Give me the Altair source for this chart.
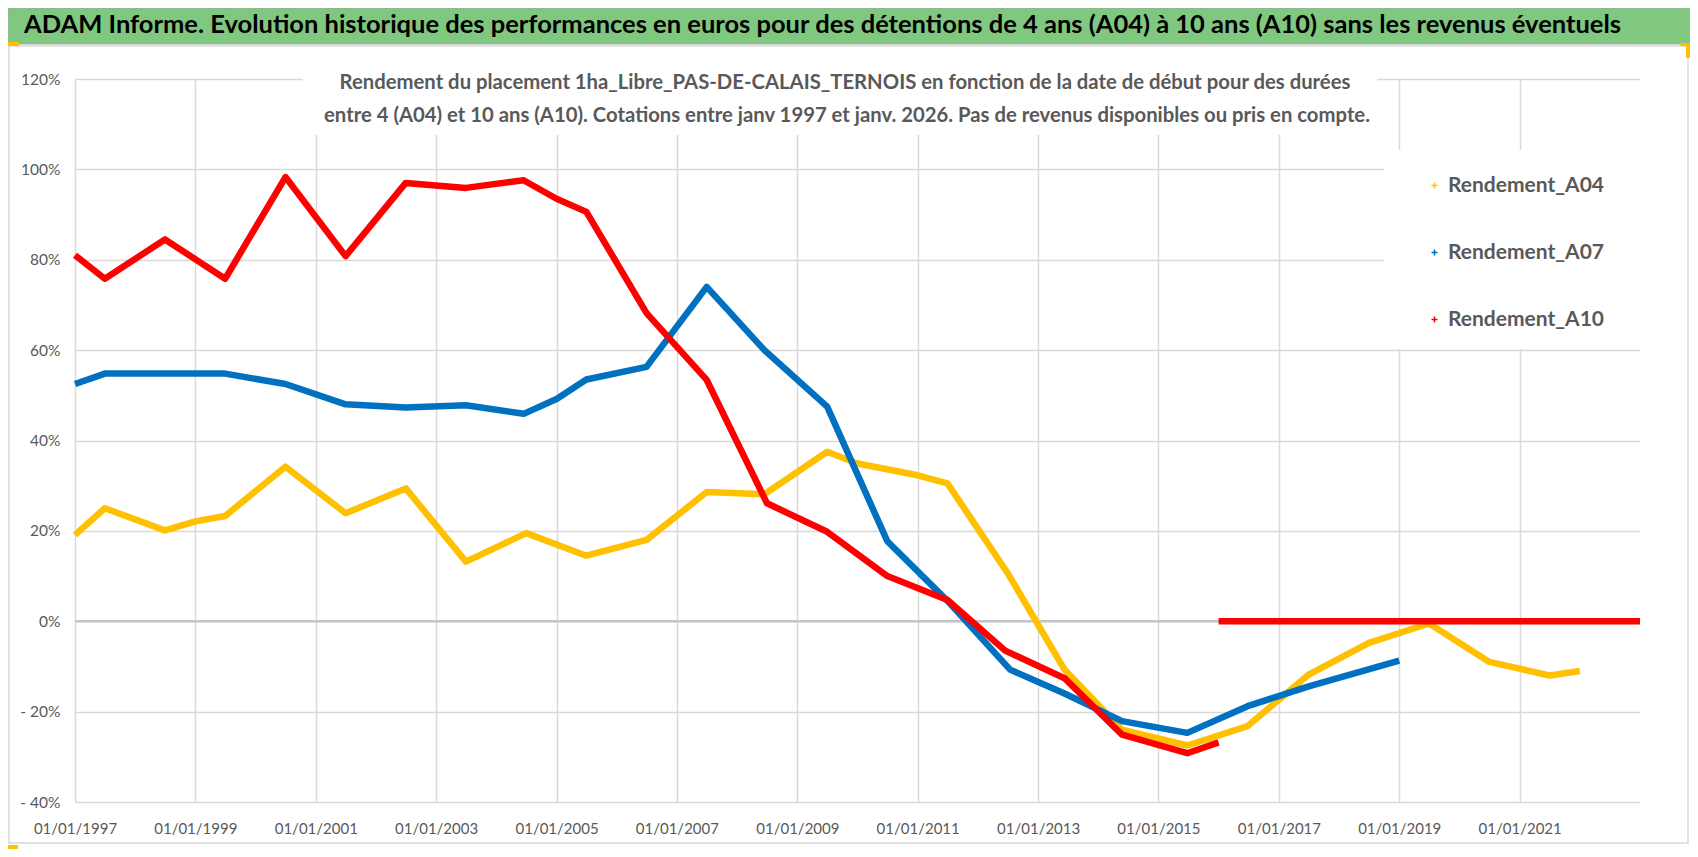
import altair as alt
import pandas as pd

# ---------------- data ----------------
series_names = ["Rendement_A04", "Rendement_A07", "Rendement_A10"]
series_colors = ["#FFC000", "#0070C0", "#FF0000"]

dates_a04 = ["1997-01-01", "1997-07-01", "1998-07-01", "1999-01-01", "1999-07-01",
             "2000-07-01", "2001-07-01", "2002-07-01", "2003-07-01", "2004-07-01",
             "2005-07-01", "2006-07-01", "2007-07-01", "2008-06-15", "2009-07-01",
             "2010-01-01", "2011-01-01", "2011-07-01", "2012-07-01", "2013-06-10",
             "2014-05-25", "2015-06-25", "2016-06-25", "2017-07-01", "2018-07-01",
             "2019-07-01", "2020-07-01", "2021-07-01", "2022-01-01"]
vals_a04 = [19.1, 25.0, 20.1, 22.1, 23.3, 34.2, 23.9, 29.4, 13.2, 19.5,
            14.5, 18.0, 28.6, 28.1, 37.5, 34.9, 32.3, 30.5, 10.6, -10.7,
            -24.0, -27.5, -23.2, -11.8, -4.8, -0.5, -9.0, -12.0, -11.0]

dates_a07 = ["1997-01-01", "1997-07-01", "1998-07-01", "1999-07-01", "2000-07-01",
             "2001-07-01", "2002-07-01", "2003-07-01", "2004-06-15", "2005-01-01",
             "2005-07-01", "2006-07-01", "2007-07-01", "2008-06-15", "2009-07-01",
             "2010-07-01", "2011-07-01", "2012-07-15", "2013-06-10", "2014-05-25",
             "2015-06-25", "2016-06-25", "2017-07-01", "2019-01-01"]
vals_a07 = [52.5, 54.8, 54.8, 54.8, 52.5, 48.0, 47.3, 47.8, 45.9, 49.2,
            53.5, 56.3, 74.0, 60.0, 47.5, 17.7, 4.5, -10.7, -16.0, -22.1,
            -24.7, -18.8, -14.4, -8.7]

dates_a10 = ["1997-01-01", "1997-07-01", "1998-07-01", "1999-07-01", "2000-07-01",
             "2001-07-01", "2002-07-01", "2003-07-01", "2004-06-15", "2005-01-01",
             "2005-07-01", "2006-07-01", "2007-07-01", "2008-07-01", "2009-07-01",
             "2010-07-01", "2011-07-01", "2012-06-15", "2013-06-10", "2014-05-25",
             "2015-06-25", "2016-01-01"]
vals_a10 = [81.0, 75.8, 84.5, 75.8, 98.3, 80.8, 97.0, 95.9, 97.6, 93.5,
            90.6, 68.2, 53.4, 26.1, 19.8, 10.0, 4.7, -6.5, -12.6, -25.1,
            -29.2, -26.8]

# A10 values after 2016 are shown as a flat 0 line
dates_a10_zero = ["2016-01-01", "2023-01-01"]
vals_a10_zero = [0.0, 0.0]

tick_years = list(range(1997, 2022, 2))

title_text = ("ADAM Informe. Evolution historique des performances en euros pour des "
              "détentions de 4 ans (A04) à 10 ans (A10) sans les revenus éventuels")
subtitle_lines = [
    "Rendement du placement 1ha_Libre_PAS-DE-CALAIS_TERNOIS en fonction de la date de début pour des durées",
    "entre 4 (A04) et 10 ans (A10).  Cotations entre janv 1997 et janv. 2026. Pas de revenus disponibles ou pris en compte.",
]

# ---------------- build table ----------------
rows = []
for d, v in zip(dates_a04, vals_a04):
    rows.append({"date": d, "val": v, "serie": series_names[0], "seg": "a04"})
for d, v in zip(dates_a07, vals_a07):
    rows.append({"date": d, "val": v, "serie": series_names[1], "seg": "a07"})
for d, v in zip(dates_a10, vals_a10):
    rows.append({"date": d, "val": v, "serie": series_names[2], "seg": "a10"})
for d, v in zip(dates_a10_zero, vals_a10_zero):
    rows.append({"date": d, "val": v, "serie": series_names[2], "seg": "a10z"})
df = pd.DataFrame(rows)

FONT = "Lato"
GRAY = "#595959"
W, H = 1565, 723

one = pd.DataFrame({"k": [0]})

x_scale = alt.Scale(type="utc",
                    domain=[alt.DateTime(year=1997, month=1, date=1, utc=True),
                            alt.DateTime(year=2023, month=1, date=1, utc=True)])
y_scale = alt.Scale(domain=[-40, 120], nice=False, zero=False)


def box(x1, x2, y1, y2, **kw):
    return alt.Chart(one).mark_rect(**kw).encode(
        x=alt.value(x1), x2=alt.value(x2), y=alt.value(y1), y2=alt.value(y2))


frame = box(-66, 1613, -33, 764, fill=None, stroke="#D9D9D9", strokeWidth=1.5)
green = box(-67, 1615, -71, -35, fill="#80C77F", stroke="#A6A6A6", strokeWidth=1)
gold1 = box(-67, -56, -37, -33, fill="#FFC000")
gold2 = box(-67, -57, 766, 771, fill="#FFC000")
gold3 = box(1605, 1615, -36, -33, fill="#FFC000")
gold4 = box(1611, 1615, -36, -21, fill="#FFC000")
sub_box = box(228, 1302, -2, 56, fill="white")
leg_box = box(1309, 1568, 71, 270, fill="white")

zero_rule = alt.Chart(pd.DataFrame({"v": [0]})).mark_rule(
    color="#C4C4C4", strokeWidth=2.5).encode(y=alt.Y("v:Q", scale=y_scale))

lines = alt.Chart(df).mark_line(strokeWidth=6.5, strokeJoin="round").encode(
    x=alt.X("date:T", scale=x_scale, title=None,
            axis=alt.Axis(values=[alt.DateTime(year=y, month=1, date=1, utc=True) for y in tick_years],
                          labelExpr="utcFormat(datum.value, '%d/%m/%Y')",
                          grid=True, ticks=False, domain=False,
                          labelPadding=19, labelFontSize=15, labelFont=FONT,
                          labelColor=GRAY, labelFlush=False, labelOverlap=False)),
    y=alt.Y("val:Q", scale=y_scale, title=None,
            axis=alt.Axis(values=[-40, -20, 0, 20, 40, 60, 80, 100, 120],
                          labelExpr="datum.value < 0 ? '- ' + (-datum.value) + '%' : datum.value + '%'",
                          grid=True, ticks=False, domain=False,
                          labelPadding=15, labelFontSize=15.5, labelFont=FONT,
                          labelColor=GRAY)),
    color=alt.Color("serie:N",
                    scale=alt.Scale(domain=series_names, range=series_colors),
                    legend=alt.Legend(orient="none", legendX=1349, legendY=96,
                                      title=None, padding=0,
                                      symbolType="M-1,0H1M0,-1V1",
                                      symbolSize=36, symbolStrokeWidth=1.5,
                                      labelFont=FONT, labelFontSize=21,
                                      labelFontWeight="bold", labelColor=GRAY,
                                      labelOffset=3, rowPadding=45)),
    detail="seg:N",
    order=alt.Order("date:T"),
)

title_mark = alt.Chart(pd.DataFrame({"t": [title_text]})).mark_text(
    align="left", baseline="middle", font=FONT, fontSize=25.5, fontWeight="bold",
    color="#000000").encode(text="t:N", x=alt.value(-51), y=alt.value(-54))

sub1 = alt.Chart(pd.DataFrame({"t": [subtitle_lines[0]]})).mark_text(
    align="center", baseline="middle", font=FONT, fontSize=20.3, fontWeight="bold",
    color=GRAY).encode(text="t:N", x=alt.value(770), y=alt.value(4))
sub2 = alt.Chart(pd.DataFrame({"t": [subtitle_lines[1]]})).mark_text(
    align="center", baseline="middle", font=FONT, fontSize=20.3, fontWeight="bold",
    color=GRAY).encode(text="t:N", x=alt.value(772), y=alt.value(37))

chart = alt.layer(
    frame, green, gold1, gold2, gold3, gold4, sub_box, leg_box,
    zero_rule, lines, title_mark, sub1, sub2
).properties(
    width=W, height=H,
    autosize=alt.AutoSizeParams(type="none"),
    padding={"left": 67, "top": 71, "right": 50, "bottom": 47},
).configure_view(stroke=None).configure_axis(
    gridColor="#D9D9D9", gridWidth=1.5
)

chart.save("out.html", embed_options={"renderer": "svg", "actions": False})
